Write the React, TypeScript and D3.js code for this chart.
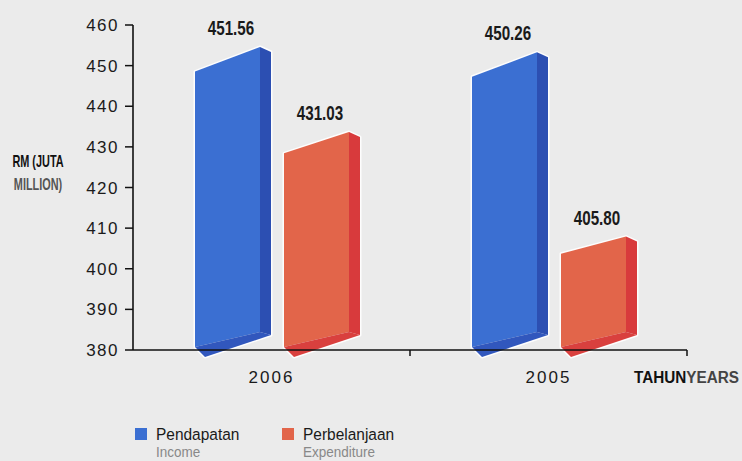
import React from "react";
import * as d3 from "d3";

const years = ["2006", "2005"];
const seriesKeys = ["Pendapatan", "Perbelanjaan"];
const seriesSub = ["Income", "Expenditure"];
const income = [451.56, 450.26];
const expenditure = [431.03, 405.8];
const yTicks = [380, 390, 400, 410, 420, 430, 440, 450, 460];

const W = 742;
const H = 461;
const SANS = "'Liberation Sans', Arial, sans-serif";

const colors = {
  Pendapatan: { front: "#3b6fd2", side: "#2c4fb2", bottom: "#3157bd" },
  Perbelanjaan: { front: "#e2654a", side: "#d83a3c", bottom: "#d9403e" },
} as Record<string, { front: string; side: string; bottom: string }>;

function NText(props: {
  x: number;
  y: number;
  sx: number;
  size: number;
  anchor?: string;
  bold?: boolean;
  fill?: string;
  children: React.ReactNode;
}) {
  const { x, y, sx, size, anchor, bold, fill, children } = props;
  return (
    <g transform={`translate(${x},${y}) scale(${sx},1)`}>
      <text
        x={0}
        y={0}
        textAnchor={anchor || "start"}
        fontFamily={SANS}
        fontWeight={bold ? "bold" : "normal"}
        fontSize={size}
        fill={fill || "#1a1a1a"}
      >
        {children}
      </text>
    </g>
  );
}

export default function App() {
  const y = d3.scaleLinear().domain([380, 460]).range([350, 25]);
  const x = d3.scaleBand<string>().domain(years).range([133, 687]);
  const xs = d3.scaleBand<string>().domain(seriesKeys).range([62, 227]).paddingInner(0.146).paddingOuter(0);
  const side = 11;
  const yb = y(380);

  const bars: any[] = [];
  years.forEach((yr, i) => {
    [income[i], expenditure[i]].forEach((v, j) => {
      const key = seriesKeys[j];
      const x0 = (x(yr) as number) + (xs(key) as number);
      const x1 = x0 + xs.bandwidth() - side;
      const yv = y(v);
      const s = 13 + (yb - yv) * 0.04;
      const TL: [number, number] = [x0, yv + s / 2];
      const TR: [number, number] = [x1, yv - s / 2];
      const BR: [number, number] = [x1, yb - 18];
      const BL: [number, number] = [x0, yb - 3];
      const STR: [number, number] = [x1 + side, TR[1] + 5];
      const SBR: [number, number] = [x1 + side, yb - 15];
      const BBL: [number, number] = [x0 + 10, yb + 7];
      bars.push({ key, v, x0, x1, TL, TR, BR, BL, STR, SBR, BBL });
    });
  });

  const pts = (a: [number, number][]) => a.map((p) => p.join(",")).join(" ");

  return (
    <svg width={W} height={H} style={{ position: "absolute", left: 0, top: 0 }}>
      <rect x={0} y={0} width={W} height={H} fill="#ebebeb" />
      {bars.map((b, i) => {
        const c = colors[b.key];
        const outline = [b.TL, b.TR, b.STR, b.SBR, b.BBL, b.BL];
        return (
          <g key={i}>
            <polygon points={pts(outline)} fill="none" stroke="#ffffff" strokeWidth={3} strokeLinejoin="round" opacity={0.9} />
            <polygon points={pts([b.TL, b.TR, b.BR, b.BL])} fill={c.front} />
            <polygon points={pts([b.TR, b.STR, b.SBR, b.BR])} fill={c.side} />
            <polygon points={pts([b.BL, b.BR, b.SBR, b.BBL])} fill={c.bottom} />
            <NText x={(b.x0 + b.x1 + side) / 2 - 2} y={b.TR[1] - 12} sx={0.76} size={20} anchor="middle" bold>
              {b.v.toFixed(2)}
            </NText>
          </g>
        );
      })}
      {/* y axis */}
      <line x1={133} x2={133} y1={y(460)} y2={yb} stroke="#111" strokeWidth={1.6} />
      {yTicks.map((t) => (
        <g key={t}>
          <line x1={125} x2={133} y1={y(t)} y2={y(t)} stroke="#111" strokeWidth={1.5} />
          <text x={119} y={y(t) + 6} textAnchor="end" fontFamily={SANS} fontSize={17} letterSpacing={1.5} fill="#1a1a1a">
            {t}
          </text>
        </g>
      ))}
      {/* x axis */}
      <line x1={133} x2={687} y1={yb} y2={yb} stroke="#111" strokeWidth={1.6} />
      {years.map((yr, i) => {
        const tx = (x(yr) as number) + x.bandwidth();
        return <line key={i} x1={tx} x2={tx} y1={yb} y2={yb + 6} stroke="#111" strokeWidth={1.5} />;
      })}
      {years.map((yr) => (
        <text
          key={yr}
          x={(x(yr) as number) + x.bandwidth() / 2}
          y={383}
          textAnchor="middle"
          fontFamily={SANS}
          fontSize={17}
          letterSpacing={2}
          fill="#1a1a1a"
        >
          {yr}
        </text>
      ))}
      <g transform="translate(634,383) scale(0.9,1)">
        <text x={0} y={0} fontFamily={SANS} fontWeight="bold" fontSize={17}>
          <tspan fill="#111">TAHUN</tspan>
          <tspan fill="#444">YEARS</tspan>
        </text>
      </g>
      {/* y title */}
      <NText x={38} y={167} sx={0.64} size={17} anchor="middle" bold fill="#111">
        RM (JUTA
      </NText>
      <NText x={38} y={190} sx={0.64} size={17} anchor="middle" bold fill="#555">
        MILLION)
      </NText>
      {/* legend */}
      {seriesKeys.map((k, i) => {
        const lx = 135 + i * 147;
        return (
          <g key={k}>
            <rect x={lx} y={428} width={12} height={12} fill={colors[k].front} />
            <NText x={lx + 21} y={440} sx={0.91} size={17}>
              {k}
            </NText>
            <NText x={lx + 21} y={457} sx={0.9} size={15} fill="#888">
              {seriesSub[i]}
            </NText>
          </g>
        );
      })}
    </svg>
  );
}
